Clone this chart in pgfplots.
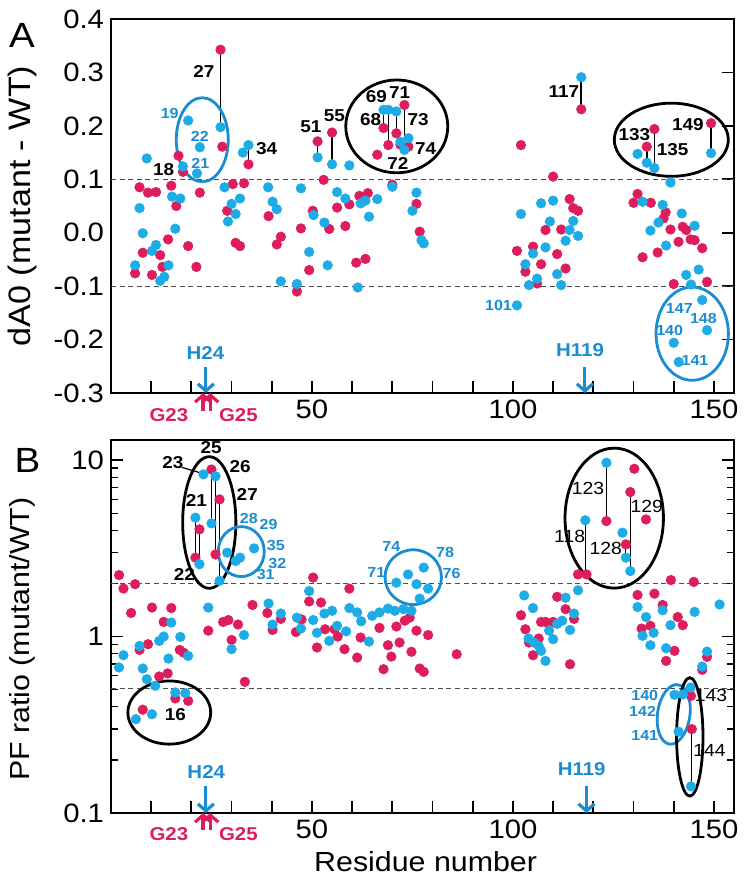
\documentclass[border=0pt]{standalone}
\usepackage{fontspec}
\setmainfont{Liberation Sans}[FakeStretch=1.1]
\usepackage{pgfplots}
\pgfplotsset{compat=1.18}
\usetikzlibrary{arrows.meta}
\definecolor{rdot}{RGB}{222,30,92}
\definecolor{bdot}{RGB}{30,172,230}
\definecolor{btxt}{RGB}{26,140,210}
\newcommand{\tfont}{\fontsize{13.3}{15}\selectfont}
\newcommand{\lfontA}{\fontsize{15.5}{17}\selectfont}
\newcommand{\lfontB}{\fontsize{13.8}{15}\selectfont}
\newcommand{\pfont}{\fontsize{17.5}{19}\selectfont}
\newcommand{\kfont}{\fontsize{8.6}{10}\selectfont\bfseries}
\newcommand{\kfontr}{\fontsize{8.8}{10}\selectfont}
\newcommand{\bfontb}{\fontsize{7.3}{8}\selectfont\bfseries}
\newcommand{\hfont}{\fontsize{9.3}{10}\selectfont\bfseries}
\pgfplotsset{
  panel/.style={
    scale only axis, width=311.5pt, xmin=0, xmax=155, clip=false,
    axis line style={line width=0.95pt},
    tick align=inside, xtick pos=bottom,
    xtick={10,20,...,150}, xticklabels={,,,,50,,,,,100,,,,,150},
    major tick length=6pt, minor tick length=3.5pt,
    every tick/.style={black, line width=0.9pt},
    every minor tick/.style={black, line width=0.7pt},
    xticklabel style={font=\tfont},
    yticklabel style={font=\tfont},
    every axis y label/.style={rotate=90,anchor=center},
    every axis x label/.style={anchor=center,font=\lfontB},
  },
  rd/.style={only marks, color=rdot, mark=*, mark size=2.4pt, mark options={solid, draw=rdot, fill=rdot, line width=0.3pt}},
  bd/.style={only marks, color=bdot, mark=*, mark size=2.4pt, mark options={solid, draw=bdot, fill=bdot, line width=0.3pt}},
  ln/.style={black, line width=0.8pt, no marks},
  ref/.style={black!70, line width=0.5pt, dash pattern=on 2.5pt off 1.8pt, no marks},
}
\begin{document}
\begin{tikzpicture}
\path[use as bounding box] (0,0) rectangle (372.5pt,444pt);
% ---------------- Panel A ----------------
\begin{axis}[panel, at={(55.5pt,247.5pt)}, anchor=south west, height=187pt,
  ymin=-0.3, ymax=0.4, ytick={-0.3,-0.2,-0.1,0,0.1,0.2,0.3,0.4},
  yticklabels={-0.3,-0.2,-0.1,0.0,0.1,0.2,0.3,0.4},
  ytick pos=right, yticklabel pos=left,
  ylabel={dA0 (mutant - WT)}, ylabel style={font=\lfontA, at={(axis description cs:-0.142,0.5)}}]
\addplot[ref] coordinates {(0,0.1) (155,0.1)};
\addplot[ref] coordinates {(0,-0.1) (155,-0.1)};
\addplot[rd] coordinates {
(6,-0.076) (7.1,0.085) (7.9,-0.0375) (9.2,0.075) (10.2,-0.079) (11.2,0.076)
(12.25,-0.042) (12.8,-0.064) (14.2,-0.0125) (15,0.088) (16.25,0.05) (16.8,0.144)
(17.9,0.114) (19.2,-0.025) (21.25,-0.064) (22.1,0.075) (27.25,0.3425) (27.7,0.161)
(28.9,0.041) (30.3,0.091) (31,-0.019) (32.1,-0.025) (33.1,0.0925) (34.2,0.128)
(39.2,0.031) (41.25,-0.022) (42.25,-0.0075) (46.25,-0.11) (47.25,0.008) (49.3,-0.07)
(50.2,0.041) (51.4,0.171) (52.9,0.099) (54.3,0.007) (55,0.1875) (56.25,0.047)
(58.3,0.0125) (59.3,0.053) (61,-0.056) (61.8,0.069) (63.3,-0.049) (63.9,0.074)
(66.25,0.146) (67.8,0.196) (69,0.164) (70,0.09) (71,0.186) (72,0.165) (73,0.239)
(74,0.161) (76,0.054) (76.8,0.002)
(101,-0.034) (102,0.164) (103.1,-0.073) (105,-0.026) (106,-0.095) (107,-0.059)
(108.1,0.005) (110,0.105) (111,-0.04) (112,0.006) (113.1,-0.067) (114.1,0.063)
(115,0.046) (116.2,0.041) (117,0.231)
(130,0.056) (131,0.0725) (132.25,-0.046) (133.3,0.161) (134.3,0.056) (135.2,0.194)
(136,-0.037) (137.5,0.027) (138,0.038) (139.2,0.006) (140,-0.096) (141.2,-0.017)
(142.25,0.011) (143.1,0.005) (144.2,-0.0125) (145.2,-0.014) (147.1,-0.029)
(148.3,-0.092) (149.3,0.205)};
\addplot[bd] coordinates {
(6,-0.061) (7.1,0.046) (7.9,-0.001) (8.9,0.139) (10.2,-0.034) (11.2,-0.023)
(12.25,-0.09) (13.25,-0.0825) (14.3,-0.061) (15.2,0.0675) (16,0.0075) (17.25,0.064)
(17.9,0.124) (19.2,0.21) (21.4,0.111) (22.1,0.16) (27.25,0.1975) (28.25,0.085)
(29.1,0.021) (30,0.054) (31,0.035) (32.1,0.064) (32.8,0.15) (34.2,0.164)
(39.1,0.085) (40.2,0.058) (41.25,0.044) (42.25,-0.091) (46.25,-0.096) (47.25,0.083)
(49.3,-0.036) (50.4,0.033) (51.4,0.141) (53.1,0.019) (53.9,-0.061) (55,0.128)
(56.25,0.076) (58.3,0.064) (59.3,0.126) (61.4,-0.1025) (62.1,0.055) (63.3,0.06)
(64.2,0.03) (66.25,0.063) (67.8,0.23) (69,0.23) (70,0.086) (71,0.227) (72,0.17)
(73,0.155) (74,0.177) (75,0.041) (76,0.075) (77.25,-0.014) (77.8,-0.02)
(101,-0.136) (102,0.035) (103.1,-0.059) (104,-0.098) (105,-0.039) (106,-0.086)
(107,0.055) (108.1,-0.0275) (109.2,0.021) (110,0.06) (111,-0.0775) (112,-0.098)
(113.1,-0.015) (114.1,0.005) (115,0.022) (116.2,-0.006) (117,0.291)
(131,0.1475) (132.25,0.058) (133.3,0.131) (134.2,0.004) (135.2,0.121) (136.2,0.019)
(137.25,0.052) (138.1,-0.024) (139.2,0.094) (140,-0.206) (141.25,-0.242) (142,0.036)
(143.1,-0.079) (144.3,-0.097) (145.2,0.013) (146.2,-0.069) (147.1,-0.126)
(148.3,-0.1825) (149.3,0.149)};
% connecting lines
\addplot[ln] coordinates {(17.9,0.114) (17.9,0.124)};
\addplot[ln] coordinates {(27.25,0.1975) (27.25,0.3425)};
\addplot[ln] coordinates {(34.2,0.128) (34.2,0.164)};
\addplot[ln] coordinates {(51.4,0.141) (51.4,0.171)};
\addplot[ln] coordinates {(55,0.128) (55,0.1875)};
\addplot[ln] coordinates {(67.8,0.196) (67.8,0.23)};
\addplot[ln] coordinates {(69,0.164) (69,0.23)};
\addplot[ln] coordinates {(71,0.186) (71,0.227)};
\addplot[ln] coordinates {(72,0.165) (72,0.17)};
\addplot[ln] coordinates {(73,0.155) (73,0.239)};
\addplot[ln] coordinates {(74,0.161) (74,0.177)};
\addplot[ln] coordinates {(117,0.231) (117,0.291)};
\addplot[ln] coordinates {(133.3,0.131) (133.3,0.161)};
\addplot[ln] coordinates {(135.2,0.121) (135.2,0.194)};
\addplot[ln] coordinates {(149.3,0.149) (149.3,0.205)};
% ellipses
\draw[btxt, line width=1.4pt] (axis cs:22.7,0.174) ellipse [x radius=13pt, y radius=21pt];
\draw[black, line width=1.4pt] (axis cs:71.1,0.199) ellipse [x radius=25.5pt, y radius=23.2pt];
\draw[black, line width=1.4pt] (axis cs:139.4,0.174) ellipse [x radius=28.5pt, y radius=18.3pt];
\draw[btxt, line width=1.4pt] (axis cs:144.6,-0.189) ellipse [x radius=18.1pt, y radius=23.3pt];
% labels
\node[font=\kfont] at (axis cs:23.1,0.302) {27};
\node[font=\kfont] at (axis cs:13.1,0.119) {18};
\node[font=\kfont] at (axis cs:38.75,0.157) {34};
\node[font=\kfont] at (axis cs:49.75,0.199) {51};
\node[font=\kfont] at (axis cs:55.6,0.22) {55};
\node[font=\kfont] at (axis cs:66,0.255) {69};
\node[font=\kfont] at (axis cs:71.8,0.2625) {71};
\node[font=\kfont] at (axis cs:64.6,0.211) {68};
\node[font=\kfont] at (axis cs:76.4,0.211) {73};
\node[font=\kfont] at (axis cs:78.3,0.158) {74};
\node[font=\kfont] at (axis cs:71.4,0.13) {72};
\node[font=\kfont] at (axis cs:112.7,0.264) {117};
\node[font=\kfont] at (axis cs:130.2,0.183) {133};
\node[font=\kfont] at (axis cs:139.75,0.155) {135};
\node[font=\kfont] at (axis cs:143.5,0.202) {149};
\node[font=\bfontb, text=btxt] at (axis cs:14.6,0.2225) {19};
\node[font=\bfontb, text=btxt] at (axis cs:22.1,0.181) {22};
\node[font=\bfontb, text=btxt] at (axis cs:22.25,0.13) {21};
\node[font=\bfontb, text=btxt] at (axis cs:96.4,-0.136) {101};
\node[font=\bfontb, text=btxt] at (axis cs:141.4,-0.142) {147};
\node[font=\bfontb, text=btxt] at (axis cs:147.4,-0.161) {148};
\node[font=\bfontb, text=btxt] at (axis cs:139,-0.1825) {140};
\node[font=\bfontb, text=btxt] at (axis cs:145.3,-0.24) {141};
% arrows
\node[font=\hfont, text=btxt] at (axis cs:23.5,-0.2245) {H24};
\draw[btxt, line width=1.6pt, -{Straight Barb[length=3.5pt,width=8pt]}] (axis cs:23.6,-0.252) -- (axis cs:23.6,-0.3);
\node[font=\hfont, text=btxt] at (axis cs:116.7,-0.219) {H119};
\draw[btxt, line width=1.6pt, -{Straight Barb[length=3.5pt,width=8pt]}] (axis cs:117.9,-0.252) -- (axis cs:117.9,-0.3);
\draw[rdot, line width=1.6pt, -{Straight Barb[length=3.5pt,width=8pt]}] (axis cs:22.9,-0.334) -- (axis cs:22.9,-0.3);
\draw[rdot, line width=1.6pt, -{Straight Barb[length=3.5pt,width=8pt]}] (axis cs:24.7,-0.334) -- (axis cs:24.7,-0.3);
\node[font=\hfont, text=rdot] at (axis cs:14.4,-0.341) {G23};
\node[font=\hfont, text=rdot] at (axis cs:31.7,-0.341) {G25};
\node[font=\pfont] at (axis description cs:-0.143,0.955) {A};
\end{axis}
% ---------------- Panel B ----------------
\begin{axis}[panel, at={(55.5pt,37.5pt)}, anchor=south west, height=186.5pt,
  ymode=log, ymin=0.1, ymax=13, ytick={0.1,1,10}, yticklabels={0.1,1,10},
  minor ytick={0.2,0.3,0.4,0.5,0.6,0.7,0.8,0.9,2,3,4,5,6,7,8,9},
  ytick pos=both, yticklabel pos=left,
  ylabel={PF ratio (mutant/WT)}, ylabel style={font=\lfontB, at={(axis description cs:-0.142,0.466)}},
  xlabel={Residue number}, xlabel style={at={(axis description cs:0.505,-0.131)}}]
\addplot[ref] coordinates {(0,2) (155,2)};
\addplot[ref] coordinates {(0,0.51) (155,0.51)};
\addplot[rd] coordinates {
(2,2.23) (3.1,1.87) (5,1.36) (6,1.98) (7.1,0.84) (7.9,0.385) (9.2,0.905) (10.2,1.46)
(12,0.594) (13.1,1.21) (14.1,0.618) (15,1.45) (16,0.446) (17.1,0.84) (18.1,0.81)
(19.2,0.432) (21,2.8) (22,4.05) (24.2,1.08) (25,8.85) (26,2.92) (27,5.99) (27.9,1.21)
(29.2,1.24) (30,0.957) (31.6,1.17) (33.3,0.554) (35.2,1.51) (38.9,1.36) (40.2,1.09)
(42.25,1.26) (46,1.06) (47.4,1.25) (49.3,1.58) (50.3,2.16) (51.25,0.867) (52.25,1.56)
(53.25,1.1) (55.6,1.1) (56.4,1.0) (58.1,0.848) (59.3,1.87) (61.25,0.76) (62.1,0.987)
(66.8,1.12) (67.8,0.653) (68.9,0.893) (69.75,0.77) (71,1.14) (71.8,0.925) (73.1,1.23)
(74.3,1.28) (74.75,0.82) (76,1.08) (76.8,0.659) (77.8,0.631) (78.9,1.02) (86,0.794)
(102,1.32) (103.1,1.1) (104,0.925) (105,0.784) (106.4,0.975) (107,1.21) (108.1,1.21)
(110,1.21) (111,1.68) (113.1,1.43) (114.2,0.697) (115.2,1.26) (116.2,2.25) (118.3,2.25)
(123.25,4.51) (128.1,3.33) (129.2,6.59) (130.2,8.93) (131,1.72) (132,1.11) (133.1,4.61)
(134.2,1.15) (135.2,1.75) (137.25,1.51) (138.1,0.728) (139.3,2.09) (140.2,0.83)
(141,1.29) (142.25,1.16) (144.3,0.461) (144.5,0.299) (145,2.04) (147.1,0.648) (148.3,0.767)};
\addplot[bd] coordinates {
(2,0.668) (3.1,0.784) (6.2,0.34) (7.1,0.885) (7.9,0.659) (8.9,0.573) (10.2,0.363)
(11,0.526) (12,0.945) (13.1,1.0) (14.3,0.75) (15,1.2) (16,0.482) (17.25,0.995)
(18.5,0.478) (19.2,0.777) (21,4.72) (22,2.57) (23,8.3) (24.2,1.46) (25,4.38) (26,8.1)
(27,2.07) (28.9,2.99) (30,0.848) (31,2.68) (32.1,2.8) (33.1,1.02) (35.6,3.16)
(39.2,1.54) (40.2,1.17) (42.25,1.35) (46.25,1.28) (47.25,1.11) (49.3,1.81) (50.3,1.24)
(51.25,1.05) (53.1,1.35) (54.3,0.945) (55,1.4) (56.25,1.15) (58.5,1.07) (59.3,1.45)
(61.25,1.37) (62.25,1.22) (64.2,0.937) (65,1.31) (66.8,1.37) (68.9,1.44) (70.6,1.4)
(72.75,1.43) (74.75,1.4) (71,2.02) (73.9,2.25) (76,1.98) (76.8,1.64) (77.8,2.46)
(78.9,1.87)
(102.8,1.71) (103.9,0.975) (105,1.45) (105.2,0.925) (106.4,0.885) (107,0.83)
(108.1,0.728) (109,1.08) (110,0.966) (111,1.18) (112.25,1.23) (113.1,1.66) (114.2,1.09)
(115.2,1.35) (116.2,1.83) (118,4.56) (123.25,9.66) (127.25,3.88) (128.1,2.8) (129.2,2.35)
(131,1.47) (132.25,1.01) (133.1,1.29) (134.2,0.893) (135,1.05) (137.25,1.41)
(138.1,0.859) (139.2,1.16) (140.2,0.468) (141.2,0.289) (142.3,0.47) (144.2,0.514)
(144.3,0.1415) (145.2,1.38) (147.1,0.676) (148.3,0.822) (151.4,1.52)};
\addplot[ln, line width=0.6pt] coordinates {(16,0.446) (16,0.482)};
\addplot[ln, line width=0.6pt] coordinates {(21,2.8) (21,4.72)};
\addplot[ln, line width=0.6pt] coordinates {(22,2.57) (22,4.05)};
\addplot[ln, line width=0.6pt] coordinates {(25,4.38) (25,8.85)};
\addplot[ln, line width=0.6pt] coordinates {(26,2.92) (26,8.1)};
\addplot[ln, line width=0.6pt] coordinates {(27,2.07) (27,5.99)};
\addplot[ln, line width=0.6pt] coordinates {(118,2.25) (118,4.56)};
\addplot[ln, line width=0.6pt] coordinates {(123.25,4.51) (123.25,9.66)};
\addplot[ln, line width=0.6pt] coordinates {(128.1,2.8) (128.1,3.33)};
\addplot[ln, line width=0.6pt] coordinates {(129.2,2.35) (129.2,6.59)};
\addplot[ln, line width=0.6pt] coordinates {(144.4,0.1415) (144.4,0.299)};
\draw[black, line width=0.6pt] (axis cs:17.6,9.1) -- (axis cs:22.2,8.47);
% ellipses
\draw[black, line width=1.4pt] (axis cs:24.45,4.43) ellipse [x radius=13.3pt, y radius=32.9pt];
\draw[btxt, line width=1.4pt] (axis cs:32.4,3.03) ellipse [x radius=11.5pt, y radius=12.5pt];
\draw[black, line width=1.4pt] (axis cs:14.5,0.371) ellipse [x radius=20.7pt, y radius=15.8pt];
\draw[btxt, line width=1.4pt] (axis cs:75.2,2.17) ellipse [x radius=14.1pt, y radius=13.7pt];
\draw[black, line width=1.4pt] (axis cs:125.2,4.69) ellipse [x radius=24.6pt, y radius=35pt];
\draw[btxt, line width=1.4pt, rotate around={-8:(axis cs:140,0.362)}] (axis cs:140,0.362) ellipse [x radius=8.1pt, y radius=15pt];
\draw[black, line width=1.4pt] (axis cs:144,0.27) ellipse [x radius=6.6pt, y radius=29.6pt];
% labels
\node[font=\kfont] at (axis cs:24.9,11.7) {25};
\node[font=\kfont] at (axis cs:15.4,9.66) {23};
\node[font=\kfont] at (axis cs:32.1,9.17) {26};
\node[font=\kfont] at (axis cs:33.9,6.4) {27};
\node[font=\kfont] at (axis cs:21.25,5.94) {21};
\node[font=\kfont] at (axis cs:18.25,2.25) {22};
\node[font=\kfont] at (axis cs:16,0.359) {16};
\node[font=\kfontr] at (axis cs:118.7,6.88) {123};
\node[font=\kfontr] at (axis cs:133.3,5.49) {129};
\node[font=\kfontr] at (axis cs:114.1,3.68) {118};
\node[font=\kfontr] at (axis cs:123.1,3.16) {128};
\node[font=\kfontr] at (axis cs:149.3,0.466) {143};
\node[font=\kfontr] at (axis cs:148.9,0.225) {144};
\node[font=\bfontb, text=btxt] at (axis cs:34.3,4.66) {28};
\node[font=\bfontb, text=btxt] at (axis cs:39.2,4.32) {29};
\node[font=\bfontb, text=btxt] at (axis cs:41,3.3) {35};
\node[font=\bfontb, text=btxt] at (axis cs:41.4,2.6) {32};
\node[font=\bfontb, text=btxt] at (axis cs:38.5,2.25) {31};
\node[font=\bfontb, text=btxt] at (axis cs:69.75,3.26) {74};
\node[font=\bfontb, text=btxt] at (axis cs:83.1,2.99) {78};
\node[font=\bfontb, text=btxt] at (axis cs:66,2.32) {71};
\node[font=\bfontb, text=btxt] at (axis cs:84.75,2.28) {76};
\node[font=\bfontb, text=btxt] at (axis cs:132.8,0.461) {140};
\node[font=\bfontb, text=btxt] at (axis cs:132.25,0.375) {142};
\node[font=\bfontb, text=btxt] at (axis cs:132.8,0.276) {141};
% arrows
\node[font=\hfont, text=btxt] at (axis cs:23.7,0.17) {H24};
\draw[btxt, line width=1.6pt, -{Straight Barb[length=3.5pt,width=8pt]}] (axis cs:23.6,0.1426) -- (axis cs:23.6,0.1);
\node[font=\hfont, text=btxt] at (axis cs:117.1,0.177) {H119};
\draw[btxt, line width=1.6pt, -{Straight Barb[length=3.5pt,width=8pt]}] (axis cs:118.3,0.1426) -- (axis cs:118.3,0.1);
\draw[rdot, line width=1.6pt, -{Straight Barb[length=3.5pt,width=8pt]}] (axis cs:22.9,0.0798) -- (axis cs:22.9,0.1);
\draw[rdot, line width=1.6pt, -{Straight Barb[length=3.5pt,width=8pt]}] (axis cs:24.7,0.0798) -- (axis cs:24.7,0.1);
\node[font=\hfont, text=rdot] at (axis cs:14.4,0.076) {G23};
\node[font=\hfont, text=rdot] at (axis cs:31.7,0.076) {G25};
\node[font=\pfont] at (axis description cs:-0.134,0.946) {B};
\end{axis}
\end{tikzpicture}
\end{document}
